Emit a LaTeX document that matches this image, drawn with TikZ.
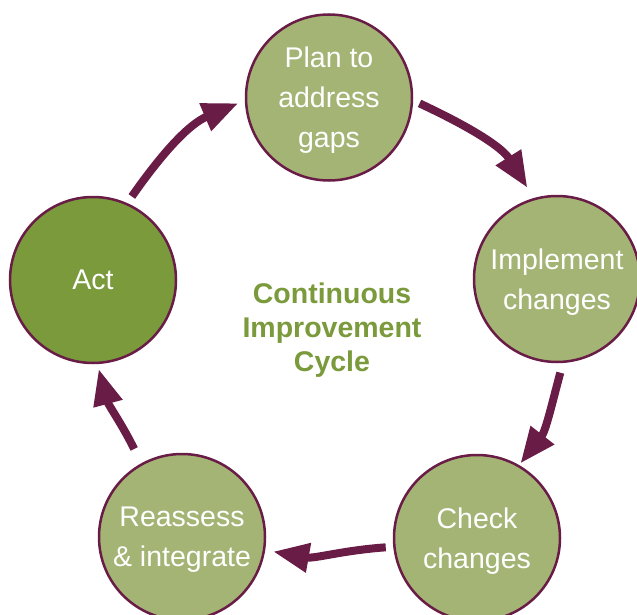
\documentclass[tikz,border=0pt]{standalone}
\usepackage{fontspec}
\setmainfont{Liberation Sans}
\usetikzlibrary{arrows.meta}
\definecolor{plum}{RGB}{105,28,70}
\definecolor{sage}{RGB}{164,180,117}
\definecolor{leafgreen}{RGB}{122,154,60}
\tikzset{
  stage/.style={circle,draw=plum,line width=2.5pt,fill=sage,minimum size=166pt,inner sep=0pt,
    text=white,align=center,text depth=0pt,font=\fontsize{28.5}{40}\selectfont},
  cyc/.style={plum,line width=8pt,-{Triangle[length=36pt,width=28pt]}}
}

\begin{document}
\begin{tikzpicture}[x=1pt,y=1pt]
\useasboundingbox (0,0) rectangle (637,-615);
\clip (0,0) rectangle (637,-615);

\node[stage] (plan) at (329,-97.5) {Plan to\\address\\gaps};
\node[stage] (impl) at (557,-279) {Implement\\changes};
\node[stage] (check) at (477,-538) {Check\\changes};
\node[stage] (reas) at (182,-537) {Reassess\\\& integrate};
\node[stage,fill=leafgreen] (act) at (93,-280) {Act};
\node[font=\bfseries\fontsize{28.5}{34}\selectfont,text=leafgreen,align=center,text depth=0pt] (mid) at (332,-327) {Continuous\\Improvement\\Cycle};

% arrows round the cycle
\draw[cyc,shorten <=7pt,shorten >=12pt] (plan.-2) to[out=-25,in=122] (impl.106);
\draw[cyc,shorten <=10pt,shorten >=2pt] (impl.-86) to[out=-105,in=52] (check.60);
\draw[cyc,shorten <=7.5pt,shorten >=8pt] (check.186) to[out=184,in=-10] (reas.-9);
\draw[cyc,shorten <=16pt,shorten >=5pt] (reas.119) to[out=116,in=-75] (act.-87);
\draw[cyc,shorten <=8pt,shorten >=7pt] (act.66) to[out=55,in=203] (plan.182);
\end{tikzpicture}
\end{document}
